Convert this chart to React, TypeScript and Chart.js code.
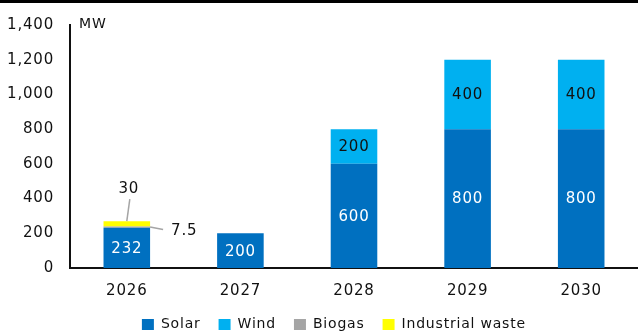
import { useEffect, useRef } from "react";
import { Chart, registerables } from "chart.js";

Chart.register(...registerables);

// Planned capacity additions by year (MW)
const years = ["2026", "2027", "2028", "2029", "2030"];
const solar = [232, 200, 600, 800, 800];
const wind = [null, null, 200, 400, 400];
const biogas = [7.5, null, null, null, null];
const industrialWaste = [30, null, null, null, null];
const yTickValues = [0, 200, 400, 600, 800, 1000, 1200, 1400];
const unitLabel = "MW";

const COLORS = {
  solar: "#0070C0",
  wind: "#00B0F0",
  biogas: "#A5A5A5",
  industrialWaste: "#FFFF00",
};

const FONT = "'DejaVu Sans', 'Liberation Sans', sans-serif";

// Canvas-wide text spacing so glyphs run a bit wider
const spacingPlugin = {
  id: "textSpacing",
  beforeDraw(chart: any) {
    (chart.ctx as any).letterSpacing = "0.8px";
  },
};

// Thin black rule across the top edge
const topRulePlugin = {
  id: "topRule",
  beforeDraw(chart: any) {
    const ctx = chart.ctx;
    ctx.save();
    ctx.fillStyle = "#000";
    ctx.fillRect(0, 0, chart.width, 3);
    ctx.restore();
  },
};

// Nudge the legend row down towards the bottom edge and give the
// category labels room below the axis
const layoutNudgePlugin = {
  id: "layoutNudge",
  afterLayout(chart: any) {
    const lg = chart.legend;
    if (lg) {
      lg.top += 9.5;
      lg.bottom += 9.5;
    }
    const xs = chart.scales.x;
    if (xs) xs.bottom += 16;
  },
};

// Value labels: centred inside the bars, with callouts for the thin 2026 segments
const valueLabelPlugin = {
  id: "valueLabels",
  afterDatasetsDraw(chart: any) {
    const ctx = chart.ctx;
    ctx.save();
    ctx.font = `15px ${FONT}`;
    chart.data.datasets.forEach((ds: any, di: number) => {
      const meta = chart.getDatasetMeta(di);
      meta.data.forEach((el: any, i: number) => {
        const v = ds.data[i];
        if (v === null || v === undefined) return;
        const { x, y, base, width } = el.getProps(["x", "y", "base", "width"], true);
        const cy = (y + base) / 2;
        const text = String(v);
        if (ds.label === "Solar" || ds.label === "Wind") {
          ctx.fillStyle = ds.label === "Solar" ? "#ffffff" : "#111111";
          ctx.textAlign = "center";
          ctx.textBaseline = "middle";
          ctx.fillText(text, x, cy + 1);
        } else if (ds.label === "Biogas") {
          const x0 = x + width / 2;
          ctx.strokeStyle = "#A5A5A5";
          ctx.lineWidth = 1.5;
          ctx.beginPath();
          ctx.moveTo(x0, cy);
          ctx.lineTo(x0 + 13, cy + 2.5);
          ctx.stroke();
          ctx.fillStyle = "#111111";
          ctx.textAlign = "left";
          ctx.textBaseline = "middle";
          ctx.fillText(text, x0 + 21, cy + 4);
        } else {
          ctx.strokeStyle = "#A5A5A5";
          ctx.lineWidth = 1.5;
          ctx.beginPath();
          ctx.moveTo(x, y);
          ctx.lineTo(x + 3, y - 22);
          ctx.stroke();
          ctx.fillStyle = "#111111";
          ctx.textAlign = "center";
          ctx.textBaseline = "middle";
          ctx.fillText(text, x + 2, y - 32);
        }
      });
    });
    // unit caption beside the top of the value axis
    const area = chart.chartArea;
    ctx.font = `14px ${FONT}`;
    ctx.fillStyle = "#111111";
    ctx.textAlign = "left";
    ctx.textBaseline = "middle";
    ctx.fillText(unitLabel, area.left + 9, area.top - 1);
    ctx.restore();
  },
};

const AXIS_X = 70;

export default function App() {
  const canvasRef = useRef<HTMLCanvasElement | null>(null);

  useEffect(() => {
    const canvas = canvasRef.current;
    if (!canvas) return;
    const chart = new Chart(canvas, {
      type: "bar",
      data: {
        labels: years,
        datasets: [
          { label: "Solar", data: solar, backgroundColor: COLORS.solar },
          { label: "Wind", data: wind, backgroundColor: COLORS.wind },
          { label: "Biogas", data: biogas, backgroundColor: COLORS.biogas },
          { label: "Industrial waste", data: industrialWaste, backgroundColor: COLORS.industrialWaste },
        ],
      },
      options: {
        responsive: false,
        animation: false,
        devicePixelRatio: 1,
        layout: { padding: { top: 22, left: 0, right: -5, bottom: 0 } },
        datasets: {
          bar: { categoryPercentage: 1, barPercentage: 0.41, borderWidth: 0 },
        },
        plugins: {
          tooltip: { enabled: false },
          legend: {
            position: "bottom",
            labels: {
              font: { family: FONT, size: 14 },
              color: "#111111",
              boxWidth: 12,
              boxHeight: 11,
              padding: 18,
            },
          },
        },
        scales: {
          x: {
            stacked: true,
            offset: true,
            afterFit(scale: any) {
              scale.height = 22;
            },
            grid: { display: false, drawTicks: false },
            border: { display: true, color: "#111111", width: 2 },
            ticks: { font: { family: FONT, size: 15 }, color: "#111111", padding: 14.5 },
          },
          y: {
            stacked: true,
            min: 0,
            max: 1400,
            afterBuildTicks(scale: any) {
              scale.ticks = yTickValues.map((v) => ({ value: v }));
            },
            afterFit(scale: any) {
              scale.width = AXIS_X;
            },
            grid: { display: false, drawTicks: false },
            border: { display: true, color: "#111111", width: 2 },
            ticks: {
              font: { family: FONT, size: 15 },
              color: "#111111",
              padding: 16,
              callback: (v: any) => Number(v).toLocaleString("en-US"),
            },
          },
        },
      },
      plugins: [spacingPlugin, topRulePlugin, layoutNudgePlugin, valueLabelPlugin],
    });
    return () => chart.destroy();
  }, []);

  return (
    <div style={{ position: "fixed", left: 0, top: 0, width: 638, height: 332, background: "#fff" }}>
      <canvas ref={canvasRef} width={638} height={332} style={{ display: "block" }} />
    </div>
  );
}
